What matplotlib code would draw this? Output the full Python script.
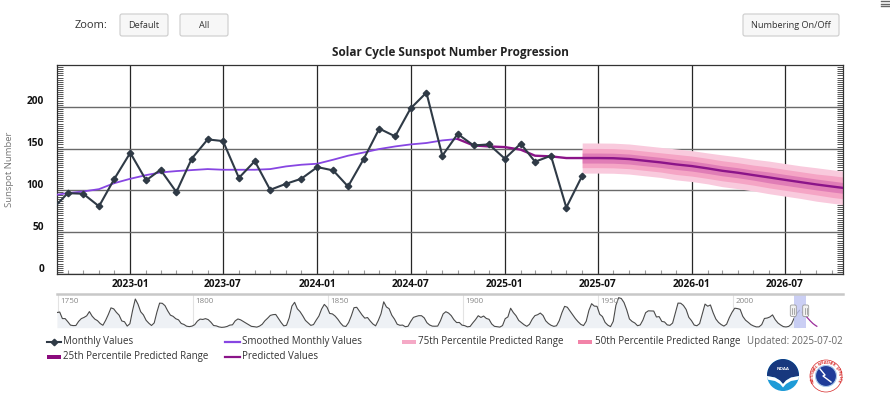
import numpy as np
import pandas as pd
import matplotlib
matplotlib.use('Agg')
import matplotlib.pyplot as plt
import matplotlib.dates as mdates
from matplotlib.patches import FancyBboxPatch, Rectangle, Circle, Polygon
from matplotlib.ticker import MultipleLocator
from matplotlib.transforms import ScaledTranslation, blended_transform_factory

plt.rcParams['font.family'] = ['Open Sans', 'DejaVu Sans']

# monthly observed values, 2022-08 .. 2025-06
monthly_values = [77.0, 96.7, 96.0, 81.0, 113.9,
                  145.0, 112.0, 124.7, 98.0, 138.0, 161.0, 159.0, 115.0, 135.0, 100.7, 107.9, 114.0,
                  127.9, 123.9, 104.7, 138.0, 173.9, 164.6, 198.0, 217.0, 141.5, 167.5, 153.8, 155.0,
                  138.0, 155.9, 134.3, 141.5, 79.5, 117.5]
monthly_start = '2022-08-01'

# smoothed monthly values, 2022-08 .. 2024-10
smoothed_values = [94.0, 96.7, 98.7, 101.5, 108.7,
                   113.9, 118.3, 121.5, 123.1, 124.3, 125.5, 124.7, 124.7, 124.7, 125.5, 128.7, 130.7,
                   131.9, 136.7, 141.5, 145.4, 149.5, 152.6, 155.0, 156.7, 159.8, 161.5]
smoothed_start = '2022-08-01'

# predicted values, 2024-10 .. 2026-11
predicted_values = [161.5, 153.8, 152.6,
                    151.8, 148.7, 141.5, 140.7, 138.7, 138.7, 138.7, 138.5, 137.5, 135.5, 133.5, 131.1,
                    129.1, 126.3, 123.5, 121.1, 118.3, 115.5, 112.7, 109.9, 107.1, 104.7, 102.3]
predicted_start = '2024-10-01'

# predicted ranges start 2025-06 (half widths around prediction)
band_offset = 8
p75_half = [18, 18, 18, 18, 18, 18, 18.5, 18.5, 18.5, 19, 19, 19, 19.5, 19.5, 19.5, 20, 20, 20]
p50_half = [11.5, 11.5, 11.5, 11.5, 11.5, 11.5, 12, 12, 12, 12, 12, 12, 12.5, 12.5, 12.5, 12.5, 13, 13]
p25_half = [6, 6, 6, 6, 6, 6, 6, 6, 6, 6, 6, 6, 6.5, 6.5, 6.5, 6.5, 6.5, 6.5]

y_ticks = [0, 50, 100, 150, 200]
x_ticks = ['2023-01-01', '2023-07-01', '2024-01-01', '2024-07-01',
           '2025-01-01', '2025-07-01', '2026-01-01', '2026-07-01']

# navigator: yearly mean sunspot numbers 1749..2024
nav_first_year = 1749
nav_values = [134.7, 139.0, 79.5, 79.7, 51.2, 20.3, 16.0, 17.0, 54.0, 79.3,
              90.0, 104.8, 143.2, 102.0, 75.2, 60.7, 34.8, 19.0, 63.0, 116.3,
              176.8, 168.0, 136.0, 110.8, 58.0, 51.0, 11.7, 33.0, 154.2, 257.3,
              209.8, 141.3, 113.5, 64.2, 38.0, 17.0, 40.2, 138.2, 220.0, 218.2,
              196.8, 149.8, 111.0, 100.0, 78.2, 68.3, 35.5, 26.7, 10.7, 6.8,
              11.3, 24.2, 56.7, 75.0, 71.8, 79.2, 70.3, 46.8, 16.8, 13.5,
              4.2, 0.0, 2.3, 8.3, 20.3, 23.2, 59.0, 76.3, 68.3, 52.9,
              38.5, 24.2, 9.2, 6.3, 2.2, 11.4, 28.2, 59.9, 83.0, 108.5,
              115.2, 117.4, 80.8, 44.3, 13.4, 19.5, 85.8, 192.7, 227.3, 168.7,
              143.0, 105.5, 63.3, 40.3, 18.1, 25.1, 65.8, 102.7, 166.3, 208.3,
              182.5, 126.3, 122.0, 102.7, 74.1, 39.0, 12.7, 8.2, 43.4, 104.4,
              178.3, 182.2, 146.6, 112.1, 83.5, 89.2, 57.8, 30.7, 13.9, 62.8,
              123.6, 232.0, 185.3, 169.2, 110.1, 74.5, 28.3, 18.9, 20.7, 5.7,
              10.0, 53.7, 90.5, 99.0, 106.1, 105.8, 86.3, 42.4, 21.8, 11.2,
              10.4, 11.8, 59.5, 121.7, 142.0, 130.0, 106.6, 69.4, 43.8, 44.4,
              20.2, 15.7, 4.6, 8.5, 40.8, 70.1, 105.5, 90.1, 102.8, 80.9,
              73.2, 30.9, 9.5, 6.0, 2.4, 16.1, 79.0, 95.0, 173.6, 134.6,
              105.7, 62.7, 43.5, 23.7, 9.7, 27.9, 74.0, 106.5, 114.7, 129.7,
              108.2, 59.4, 35.1, 18.6, 9.2, 14.6, 60.2, 132.8, 190.6, 182.6,
              148.0, 113.0, 79.2, 50.8, 27.1, 16.1, 55.3, 154.3, 214.7, 193.0,
              190.7, 118.9, 98.3, 45.0, 20.1, 6.6, 54.2, 200.7, 269.3, 261.7,
              225.1, 159.0, 76.4, 53.4, 39.9, 15.0, 22.0, 66.8, 132.9, 150.0,
              149.4, 148.0, 94.4, 97.6, 54.1, 49.2, 22.5, 18.4, 39.3, 131.0,
              220.1, 218.9, 198.9, 162.4, 91.0, 60.5, 20.6, 14.8, 33.9, 123.0,
              211.1, 191.8, 203.3, 133.0, 76.1, 44.9, 25.1, 11.6, 28.9, 88.3,
              136.3, 173.9, 170.4, 163.6, 99.3, 65.3, 45.8, 24.7, 12.6, 4.2,
              4.8, 24.9, 80.8, 84.5, 94.0, 113.3, 69.8, 39.8, 21.7, 7.0,
              3.6, 8.8, 29.6, 83.2, 125.5, 154.7]
nav_pred_years = [2025.5, 2026.5, 2027.5, 2028.5, 2029.5, 2030.5, 2030.9]
nav_pred_values = [138, 112, 85, 58, 34, 16, 10]
nav_grid_years = [1750, 1800, 1850, 1900, 1950, 2000]

W, H = 890, 399
fig = plt.figure(figsize=(W / 100, H / 100), dpi=100)
fig.patch.set_facecolor('white')

L, R, T, B = 57, 843, 65, 274
ax = fig.add_axes([L / W, 1 - B / H, (R - L) / W, (B - T) / H])

m_dates = pd.date_range(monthly_start, periods=len(monthly_values), freq='MS')
s_dates = pd.date_range(smoothed_start, periods=len(smoothed_values), freq='MS')
p_dates = pd.date_range(predicted_start, periods=len(predicted_values), freq='MS')
pred = np.array(predicted_values)
b_dates = p_dates[band_offset:]
b_pred = pred[band_offset:]

ax.fill_between(b_dates, b_pred - np.array(p75_half), b_pred + np.array(p75_half),
                color='#F9CADD', lw=0, zorder=2)
ax.fill_between(b_dates, b_pred - np.array(p50_half), b_pred + np.array(p50_half),
                color='#F5A5C5', lw=0, zorder=2)
ax.fill_between(b_dates, b_pred - np.array(p25_half), b_pred + np.array(p25_half),
                color='#E07DB6', lw=0, zorder=2)
ax.plot(s_dates, smoothed_values, color='#8746E2', lw=1.3, zorder=3)
ax.plot(p_dates, predicted_values, color='#8B1489', lw=1.7, zorder=4)
ax.plot(m_dates, monthly_values, color='#2F3A46', lw=1.5, marker='D', ms=3.3, zorder=5)

ax.set_xlim(pd.Timestamp('2022-08-11'), pd.Timestamp('2026-10-23'))
ax.set_ylim(0, 250)
xt = pd.to_datetime(x_ticks)
ax.set_xticks(xt)
ax.set_xticklabels([d.strftime('%Y-%m') for d in xt], fontsize=7.3, fontweight='bold', color='#111')
ax.xaxis.set_minor_locator(mdates.MonthLocator())
ax.tick_params(axis='x', which='major', length=0, pad=3.5)
ax.tick_params(axis='x', which='minor', direction='in', length=3, width=0.8, color='#999')
ax.set_yticks(y_ticks)
ax.yaxis.set_minor_locator(MultipleLocator(2.5))
ax.tick_params(axis='y', which='both', direction='in', length=4.5, width=0.7, color='#555',
               left=True, right=True, labelleft=False)
ax.set_axisbelow(True)
ax.grid(axis='x', which='major', color='#262626', lw=0.9)
ax.grid(axis='y', which='major', color='#6a6a6a', lw=1.0)
for s in ax.spines.values():
    s.set_color('#333')
    s.set_linewidth(0.9)

ytrans = ax.get_yaxis_transform() + ScaledTranslation(-0.13, 0.05, fig.dpi_scale_trans)
for v in y_ticks:
    ax.text(0, v, str(v), transform=ytrans, ha='right', va='center',
            fontsize=7.3, fontweight='bold', color='#111')
fig.text(10 / W, 1 - 169.5 / H, 'Sunspot Number', rotation=90, ha='center', va='center',
         fontsize=6.8, color='#777')
fig.text(450 / W, 1 - 52.5 / H, 'Solar Cycle Sunspot Number Progression', ha='center', va='center',
         fontsize=8.5, fontweight='bold', color='#222')

# navigator
NT, NB = 294.3, 327.7
nax = fig.add_axes([L / W, 1 - NB / H, (R - L) / W, (NB - NT) / H])
nax.set_xlim(1749.5, 2040.6)
nax.set_ylim(-3, 300)
nax.axis('off')
ny = np.arange(len(nav_values)) + nav_first_year + 0.5
ntr = blended_transform_factory(nax.transData, nax.transAxes)
for g in nav_grid_years:
    nax.axvline(g, color='#e3e3e3', lw=0.8, zorder=0)
    nax.text(g + 0.9, 0.78, str(g), transform=ntr, fontsize=5.8, color='#888', va='center')
nax.fill_between(ny, nav_values, -3, color='#EEF1F5', lw=0, zorder=1)
nax.plot(ny, nav_values, color='#4a4a4a', lw=0.8, zorder=2)
nax.plot(nav_pred_years, nav_pred_values, color='#9B2D9B', lw=0.9, zorder=2)
nax.axvspan(2022.6, 2026.8, color='#BEC4F2', alpha=0.8, lw=0, zorder=3)

# overlay for page furniture
ov = fig.add_axes([0, 0, 1, 1])
ov.set_xlim(0, W)
ov.set_ylim(H, 0)
ov.axis('off')

ov.plot([L, R], [NT, NT], color='#C8C8C8', lw=1.8)
for hx in [793.3, 805.7]:
    ov.add_patch(FancyBboxPatch((hx - 3, 305), 6, 11.5, boxstyle='round,pad=0,rounding_size=1.5',
                                fc='#F2F2F2', ec='#999', lw=0.6, zorder=5))
    ov.plot([hx - 1, hx - 1], [307.5, 313.5], color='#888', lw=0.5, zorder=6)
    ov.plot([hx + 1, hx + 1], [307.5, 313.5], color='#888', lw=0.5, zorder=6)

# buttons
ov.text(91, 26, 'Zoom:', ha='center', va='center', fontsize=8, color='#333')
for (bx, bw, lab) in [(120, 48, 'Default'), (180, 48, 'All'), (743, 96, 'Numbering On/Off')]:
    ov.add_patch(FancyBboxPatch((bx, 14), bw, 22, boxstyle='round,pad=0,rounding_size=2',
                                fc='#F7F7F7', ec='#CCCCCC', lw=0.8))
    ov.text(bx + bw / 2, 25, lab, ha='center', va='center', fontsize=6.6, color='#333')
for hy in [1.0, 3.5, 6.0]:
    ov.plot([881, 889], [hy, hy], color='#666', lw=1.0)

# legend
r1, r2 = 341.7, 356.7
lt = dict(fontsize=7, color='#333', va='center')
ov.plot([47, 61], [r1, r1], color='#2F3A46', lw=1.5)
ov.plot([54], [r1], marker='D', ms=3.3, color='#2F3A46')
ov.text(63, r1, 'Monthly Values', **lt)
ov.plot([225, 240], [r1, r1], color='#8746E2', lw=1.6)
ov.text(242, r1, 'Smoothed Monthly Values', **lt)
ov.add_patch(Rectangle((402, r1 - 2.2), 14, 4.4, fc='#F5A9C6', ec='none'))
ov.text(418, r1, '75th Percentile Predicted Range', **lt)
ov.add_patch(Rectangle((578, r1 - 2.2), 14, 4.4, fc='#F283A8', ec='none'))
ov.text(595, r1, '50th Percentile Predicted Range', **lt)
ov.text(747, r1, 'Updated: 2025-07-02', fontsize=7, color='#666', va='center')
ov.add_patch(Rectangle((47, r2 - 2.2), 14, 4.4, fc='#8B0A7D', ec='none'))
ov.text(63, r2, '25th Percentile Predicted Range', **lt)
ov.plot([225, 240], [r2, r2], color='#8B1489', lw=1.6)
ov.text(242, r2, 'Predicted Values', **lt)

# NOAA logo
cx, cy, rr = 783, 375, 16
base = Circle((cx, cy), rr, fc='#1E9BD7', ec='none', zorder=10)
ov.add_patch(base)
t = np.linspace(np.pi, 0, 40)
top = list(zip(cx + rr * np.cos(t), cy - rr * np.sin(t)))
wing = [(cx + rr, cy + 1), (cx + 8, cy + 2.5), (cx + 3, cy + 5.5), (cx, cy + 9),
        (cx - 3, cy + 5.5), (cx - 8, cy + 2.5), (cx - rr, cy + 1)]
navy = Polygon(top + wing, closed=True, fc='#17387E', ec='none', zorder=11)
ov.add_patch(navy)
navy.set_clip_path(base)
band = Polygon(wing + [(x, y + 3.5) for (x, y) in wing[::-1]], closed=True, fc='white', ec='none', zorder=12)
ov.add_patch(band)
band.set_clip_path(base)
ov.text(cx, cy - 6, 'NOAA', ha='center', va='center', fontsize=3.2, color='white', fontweight='bold', zorder=13)

# NWS logo
nx, nyc = 826, 376
ov.add_patch(Circle((nx, nyc), 16, fc='white', ec='#D62828', lw=0.5, zorder=10))
ov.add_patch(Circle((nx, nyc), 10.5, fc='#1F3C99', ec='#A9C8EA', lw=0.8, zorder=11))
ov.plot([nx - 6, nx - 1, nx - 3, nx + 5], [nyc - 7, nyc - 1, nyc, nyc + 6], color='white', lw=1.0, zorder=12)
word = 'NATIONAL WEATHER SERVICE'
ang = np.linspace(200, -20, len(word))
for ch, a in zip(word, ang):
    ar = np.deg2rad(a)
    ov.text(nx + 13.3 * np.cos(ar), nyc - 13.3 * np.sin(ar), ch, rotation=a - 90,
            ha='center', va='center', fontsize=2.8, fontweight='bold', color='#D62828', zorder=12)

fig.savefig('out.png', dpi=100)
